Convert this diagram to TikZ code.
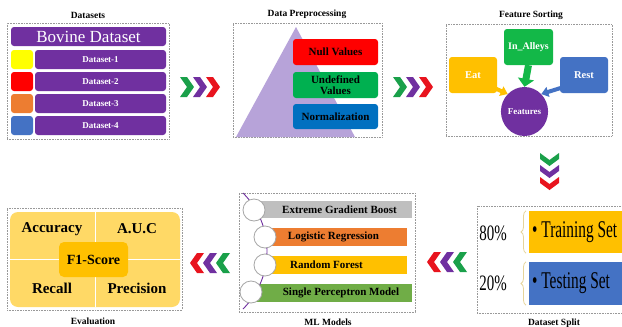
\documentclass[tikz,border=0pt]{standalone}
\usepackage{fontspec}
\setmainfont{Liberation Serif}
\usetikzlibrary{arrows.meta,decorations.pathreplacing,shapes.geometric}
\definecolor{purp}{HTML}{7030A0}
\definecolor{yel}{HTML}{FFFF00}
\definecolor{rd}{HTML}{FF0000}
\definecolor{orng}{HTML}{ED7D31}
\definecolor{blu}{HTML}{4472C4}
\definecolor{grn}{HTML}{00B050}
\definecolor{dblu}{HTML}{0070C0}
\definecolor{gold}{HTML}{FFC000}
\definecolor{lgold}{HTML}{FFD966}
\definecolor{lgrn}{HTML}{70AD47}
\definecolor{lgray}{HTML}{BFBFBF}
\definecolor{lav}{HTML}{B7A3D9}
\definecolor{tan}{HTML}{E6D49A}
\definecolor{chgrn}{HTML}{1AA04A}
\definecolor{chred}{HTML}{E8141E}
\tikzset{
  panel/.style={draw=gray!80, densely dotted, line width=0.6pt, inner sep=0pt},
  paneltitle/.style={font=\bfseries\fontsize{9.5}{11}\selectfont, inner sep=0pt},
  bar/.style={rounded corners=3pt, inner sep=0pt, draw=none},
  wbold/.style={text=white, font=\bfseries\fontsize{9}{10}\selectfont},
  kbold/.style={text=black, font=\bfseries\fontsize{11}{12}\selectfont},
  mlbold/.style={font=\bfseries\fontsize{11}{12}\selectfont, inner sep=0pt},
  evbold/.style={font=\bfseries\fontsize{15}{16}\selectfont, inner sep=0pt},
  ring/.style={circle, draw=gray!70, fill=white, line width=0.8pt, minimum size=22pt, inner sep=0pt},
  % chevrons: pointing right, down, left (placed by their top-left corner)
  chevr/.pic={\fill[pic actions] (0,0) -- (7,0) -- (14,10) -- (7,20) -- (0,20) -- (7,10) -- cycle;},
  chevd/.pic={\fill[pic actions] (0,0) -- (9.5,7) -- (19,0) -- (19,6) -- (9.5,13) -- (0,6) -- cycle;},
  chevl/.pic={\fill[pic actions] (7,0) -- (14,0) -- (7,10) -- (14,20) -- (7,20) -- (0,10) -- cycle;},
}
\begin{document}
\begin{tikzpicture}[x=1pt,y=-1pt]
\useasboundingbox (0,0) rectangle (622,327);
\fill[white] (0,0) rectangle (622,327);

% ---------- Datasets ----------
\node[paneltitle] (t1) at (88,15) {Datasets};
\node[panel, minimum width=162pt, minimum height=116pt] (p1) at (88,81) {};
\node[bar, fill=purp, minimum width=155pt, minimum height=19pt, text=white,
      font=\fontsize{17}{18}\selectfont] (bov) at (88.5,36.5) {Bovine Dataset};
\foreach \i/\c/\y in {1/yel/59.5, 2/rd/81.5, 3/orng/103.5, 4/blu/125.5}{
  \node[bar, fill=\c, minimum width=22pt, minimum height=19pt] (sq\i) at (22,\y) {};
  \node[bar, fill=purp, minimum width=131pt, minimum height=19pt, wbold] (ds\i) at (100.5,\y) {Dataset-\i};
}

% ---------- chevrons Datasets -> Preprocessing ----------
\pic[fill=chgrn] at (180,77) {chevr};
\pic[fill=purp] at (193,77) {chevr};
\pic[fill=chred] at (206,77) {chevr};

% ---------- Data Preprocessing ----------
\node[paneltitle] (t2) at (307,14) {Data Preprocessing};
\node[panel, minimum width=149pt, minimum height=114pt] (p2) at (307.5,80) {};
\fill[lav] (296,27) -- (355,137) -- (236,137) -- cycle;
\node[bar, fill=rd, minimum width=85pt, minimum height=26pt, kbold] (nv) at (335.5,52) {Null Values};
\node[bar, fill=grn, minimum width=85pt, minimum height=26pt, kbold, align=center,
      font=\bfseries\fontsize{11}{11}\selectfont] (uv) at (335.5,85) {Undefined\\Values};
\node[bar, fill=dblu, minimum width=85pt, minimum height=25pt, kbold] (nz) at (335.5,116.5) {Normalization};

% ---------- chevrons Preprocessing -> Feature Sorting ----------
\pic[fill=chgrn] at (393,77) {chevr};
\pic[fill=purp] at (406,77) {chevr};
\pic[fill=chred] at (419,77) {chevr};

% ---------- Feature Sorting ----------
\node[paneltitle] (t3) at (531,15) {Feature Sorting};
\node[panel, minimum width=166pt, minimum height=112pt] (p3) at (529,80) {};
\node[ellipse, fill=purp, minimum width=43pt, minimum height=49pt, inner sep=0pt,
      text=white, font=\bfseries\fontsize{9}{10}\selectfont] (feat) at (524.5,111.5) {Features};
\node[bar, fill=grn!90!lime, minimum width=49pt, minimum height=36pt, text=white,
      font=\bfseries\fontsize{10}{11}\selectfont] (ina) at (528.5,47) {In\_Alleys};
\node[bar, fill=gold, minimum width=48pt, minimum height=36pt, text=white,
      font=\bfseries\fontsize{10.5}{11}\selectfont] (eat) at (473,75) {Eat};
\node[bar, fill=blu, minimum width=48pt, minimum height=36pt, text=white,
      font=\bfseries\fontsize{10.5}{11}\selectfont] (rest) at (584,75) {Rest};
\draw[grn!90!lime, line width=7pt, -{Triangle[width=16pt,length=8pt]}] (ina.south) -- (feat.north);
\draw[gold, line width=4pt, -{Triangle[width=10pt,length=7pt]}] (490,86) -- (feat.north west);
\draw[blu, line width=4pt, -{Triangle[width=10pt,length=7pt]}] (567,86) -- (feat.north east);

% ---------- chevrons Feature Sorting -> Dataset Split ----------
\pic[fill=chgrn] at (540,153) {chevd};
\pic[fill=purp] at (540,165) {chevd};
\pic[fill=chred] at (540,177) {chevd};

% ---------- Dataset Split ----------
\node[paneltitle] (t4) at (554,323) {Dataset Split};
\node[panel, minimum width=148pt, minimum height=107pt] (p4) at (551,259.5) {};
\node[bar, rounded corners=0pt, fill=gold, minimum width=97pt, minimum height=42pt,
      anchor=west] (train) at (529,232) {};
\node[bar, rounded corners=0pt, fill=blu, minimum width=97pt, minimum height=43pt,
      anchor=west] (test) at (529,283.5) {};
\node[anchor=west, inner sep=0pt] (trl) at (532,232)
  {\scalebox{0.64}[1]{\fontsize{24}{24}\selectfont\textbullet\ Training Set}};
\node[anchor=west, inner sep=0pt] (tel) at (532,283.5)
  {\scalebox{0.64}[1]{\fontsize{24}{24}\selectfont\textbullet\ Testing Set}};
\node[inner sep=0pt] (p80) at (493,233) {\scalebox{0.68}[1]{\fontsize{22}{22}\selectfont 80\%}};
\node[inner sep=0pt] (p20) at (493,283) {\scalebox{0.68}[1]{\fontsize{22}{22}\selectfont 20\%}};
\draw[tan, line width=0.8pt, decorate, decoration={brace, amplitude=5pt}]
  ([xshift=-3pt]train.south west) -- ([xshift=-3pt]train.north west);
\draw[tan, line width=0.8pt, decorate, decoration={brace, amplitude=5pt}]
  ([xshift=-3pt]test.south west) -- ([xshift=-3pt]test.north west);

% ---------- chevrons Dataset Split -> ML Models ----------
\pic[fill=chred] at (427,252) {chevl};
\pic[fill=purp] at (440,252) {chevl};
\pic[fill=chgrn] at (453,252) {chevl};

% ---------- ML Models ----------
\node[paneltitle] (t5) at (328,322) {ML Models};
\node[panel, minimum width=176pt, minimum height=119pt] (p5) at (327,252.5) {};
\node[bar, rounded corners=0pt, fill=lgray, minimum width=152pt, minimum height=17pt] (xgb) at (336,209.5) {};
\node[bar, rounded corners=0pt, fill=orng, minimum width=139pt, minimum height=18pt] (lr) at (337.5,237) {};
\node[bar, rounded corners=0pt, fill=gold, minimum width=139pt, minimum height=18pt] (rf) at (337.5,265) {};
\node[bar, rounded corners=0pt, fill=lgrn, minimum width=158pt, minimum height=18pt] (spm) at (333,293) {};
\node[mlbold] (xgbt) at (339.5,209.5) {Extreme Gradient Boost};
\node[mlbold] (lrt) at (333.5,237) {Logistic Regression};
\node[mlbold] (rft) at (326.5,265) {Random Forest};
\node[mlbold] (spmt) at (341,293) {Single Perceptron Model};
\coordinate (lt) at (243,193);
\coordinate (lb) at (243,309);
\draw[purp, line width=0.9pt] (lt) .. controls (275,225) and (275,277) .. (lb);
\node[ring] (c1) at (254,210) {};
\node[ring] (c2) at (265,237) {};
\node[ring] (c3) at (265,265) {};
\node[ring] (c4) at (251,292) {};

% ---------- chevrons ML Models -> Evaluation ----------
\pic[fill=chred] at (190,253) {chevl};
\pic[fill=purp] at (203,253) {chevl};
\pic[fill=chgrn] at (216,253) {chevl};

% ---------- Evaluation ----------
\node[paneltitle] (t6) at (93,321) {Evaluation};
\node[panel, minimum width=175pt, minimum height=102pt] (p6) at (94.5,259) {};
\node[bar, rounded corners=8pt, fill=lgold, minimum width=170pt, minimum height=95pt] (ev) at (95,259.5) {};
\draw[white, line width=0.6pt] (ev.north) -- (ev.south);
\draw[white, line width=0.6pt] (ev.west) -- (ev.east);
\node[bar, rounded corners=5pt, fill=gold, minimum width=69pt, minimum height=35pt,
      font=\bfseries\fontsize{14}{15}\selectfont] (f1) at (93.5,259.5) {F1-Score};
\node[evbold] (acc) at (52,229) {Accuracy};
\node[evbold] (auc) at (137,229) {A.U.C};
\node[evbold] (rec) at (52,288) {Recall};
\node[evbold] (prec) at (137,288) {Precision};
\end{tikzpicture}
\end{document}
